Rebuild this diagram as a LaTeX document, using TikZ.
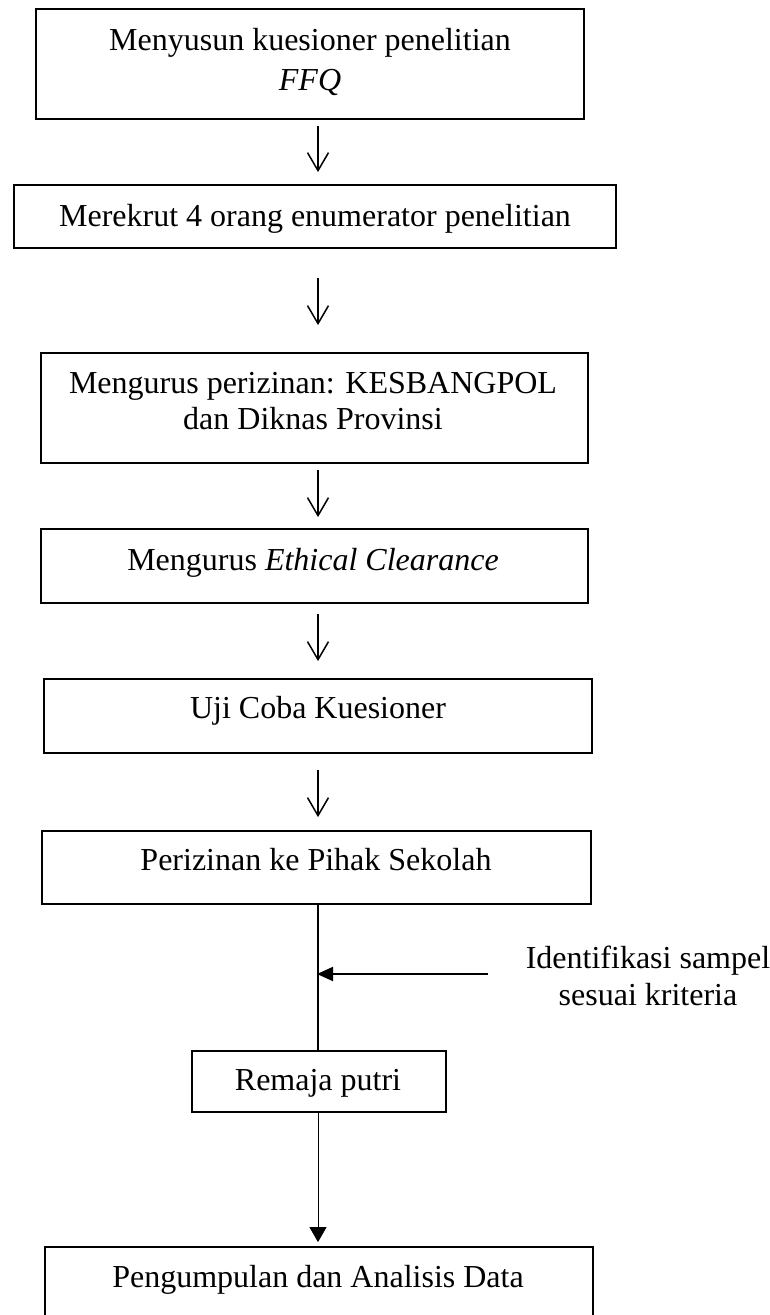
\documentclass[tikz,border=0pt]{standalone}
\usepackage{fontspec}
\setmainfont{Liberation Serif}
\usetikzlibrary{arrows.meta}
\begin{document}
\begin{tikzpicture}[x=1pt,y=-1pt,
  box/.style={draw, line width=1.8pt, inner sep=0pt, rectangle},
  lbl/.style={font=\fontsize{32}{38}\selectfont, anchor=base, inner sep=0pt},
  flow/.style={line width=1.5pt, -{Straight Barb[length=18pt,width=21pt]}},
  ]
\useasboundingbox (0,0) rectangle (769,1315);
\clip (0,0) rectangle (769,1315);
\coordinate (axis) at (318,0);
% boxes
\node[box, minimum width=548pt, minimum height=110pt] (b1) at (310,64) {};
\node[box, minimum width=602pt, minimum height=63pt] (b2) at (315,216.5) {};
\node[box, minimum width=547pt, minimum height=110pt] (b3) at (314.5,408) {};
\node[box, minimum width=547pt, minimum height=74pt] (b4) at (314.5,566) {};
\node[box, minimum width=548pt, minimum height=74pt] (b5) at (318,716) {};
\node[box, minimum width=549pt, minimum height=73pt] (b6) at (316.5,867.5) {};
\node[box, minimum width=254pt, minimum height=61pt] (b7) at (319,1081.5) {};
\node[box, minimum width=548pt, minimum height=88pt] (b8) at (319,1291) {};
% texts
\node[lbl] (t1a) at (310,50) {Menyusun kuesioner penelitian};
\node[lbl] (t1b) at (310,90) {\textit{FFQ}};
\node[lbl] (t2) at (315,226) {Merekrut 4 orang enumerator penelitian};
\node[lbl] (t3a) at (313,393) {Mengurus perizinan: KESBANGPOL};
\node[lbl] (t3b) at (313,429) {dan Diknas Provinsi};
\node[lbl] (t4) at (313,570) {Mengurus \textit{Ethical Clearance}};
\node[lbl] (t5) at (318,718) {Uji Coba Kuesioner};
\node[lbl] (t6) at (316,870) {Perizinan ke Pihak Sekolah};
\node[lbl] (t7) at (318,1090) {Remaja putri};
\node[lbl] (t8) at (318,1287) {Pengumpulan dan Analisis Data};
\node[lbl] (id1) at (648,968) {Identifikasi sampel};
\node[lbl] (id2) at (648,1005) {sesuai kriteria};
% connectors
\draw[flow, shorten <=6pt, shorten >=12pt] (b1.south -| axis) -- (b2.north -| axis);
\draw[flow, shorten <=29pt, shorten >=27pt] (b2.south -| axis) -- (b3.north -| axis);
\draw[flow, shorten <=6pt, shorten >=11pt] (b3.south -| axis) -- (b4.north -| axis);
\draw[flow, shorten <=10pt, shorten >=17pt] (b4.south -| axis) -- (b5.north -| axis);
\draw[flow, shorten <=16pt, shorten >=13pt] (b5.south -| axis) -- (b6.north -| axis);
\draw[line width=1.7pt] (b6.south -| axis) -- (b7.north -| axis);
\coordinate (src) at (488,974);
\coordinate (j) at (317,974);
\draw[line width=1.8pt, -{Triangle[length=16pt,width=14pt]}] (src) -- (j);
\draw[line width=0.8pt, -{Triangle[length=15pt,width=17pt]}, shorten >=4pt] (b7.south -| axis) -- (b8.north -| axis);
\end{tikzpicture}
\end{document}
